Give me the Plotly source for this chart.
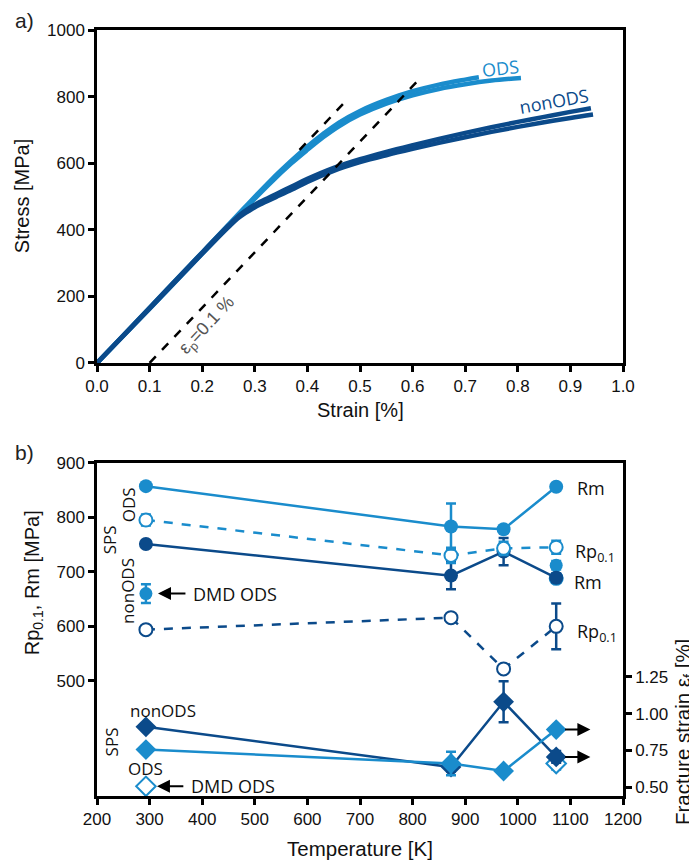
import plotly.graph_objects as go

# ---------------- data: panel a (stress-strain) ----------------
ods1_strain = [0.0, 0.10, 0.20, 0.28, 0.33, 0.37, 0.40, 0.43, 0.46, 0.50, 0.55, 0.60, 0.65, 0.70, 0.726]
ods1_stress = [0, 166, 332, 466, 548, 608, 650, 688, 722, 757, 790, 816, 836, 851, 858]
ods2_strain = [0.0, 0.10, 0.20, 0.28, 0.33, 0.37, 0.40, 0.43, 0.46, 0.50, 0.55, 0.60, 0.65, 0.70, 0.75, 0.806]
ods2_stress = [0, 163, 328, 461, 541, 600, 640, 678, 711, 746, 779, 804, 823, 837, 848, 856]
non1_strain = [0.0, 0.10, 0.20, 0.25, 0.27, 0.29, 0.31, 0.34, 0.37, 0.40, 0.45, 0.50, 0.55, 0.60, 0.65, 0.70, 0.75, 0.80, 0.85, 0.90, 0.939]
non1_stress = [0, 166, 332, 413, 443, 466, 484, 507, 530, 553, 586, 612, 634, 654, 673, 691, 708, 724, 739, 754, 765]
non2_strain = [0.0, 0.10, 0.20, 0.25, 0.27, 0.29, 0.31, 0.34, 0.37, 0.40, 0.45, 0.50, 0.55, 0.60, 0.65, 0.70, 0.75, 0.80, 0.85, 0.90, 0.943]
non2_stress = [0, 163, 328, 408, 437, 458, 476, 498, 520, 544, 577, 603, 624, 643, 661, 678, 694, 709, 723, 736, 746]
elastic_x = [0.385, 0.468]
elastic_y = [640, 778]
offset_x = [0.10, 0.615]
offset_y = [0, 856]

# ---------------- data: panel b ----------------
T = [293, 873, 973, 1073]
ods_rm = [857, 783, 778, 856]
ods_rm_err = [0, 42, 4, 0]
ods_rp = [795, 730, 743, 745]
ods_rp_err = [10, 14, 12, 12]
non_rm = [751, 693, 737, 689]
non_rm_err = [0, 25, 25, 8]
non_rp = [594, 616, 522, 600]
non_rp_err = [0, 8, 0, 42]
dmd_T = [293, 1073]
dmd_rm = [660, 712]
dmd_rm_err = [17, 8]
dmd_rp_T = [1073]
dmd_rp = [688]

non_ef = [0.91, 0.636, 1.08, 0.705]
non_ef_err = [0, 0.03, 0.14, 0.04]
ods_ef = [0.755, 0.66, 0.609, 0.891]
ods_ef_err = [0, 0.08, 0, 0]
dmd_ef_T = [293, 1073]
dmd_ef = [0.505, 0.66]
dmd_ef_err = [0, 0.04]

left_ticks = [500, 600, 700, 800, 900]
right_ticks = [0.5, 0.75, 1.0, 1.25]
right_ticktext = ["0.50", "0.75", "1.00", "1.25"]

LIGHT = "#1a8ccc"
DARK = "#0b4a8a"
TXT = "Open Sans"
AX = "Liberation Sans"

fig = go.Figure()

# panel a curves
for xs, ys, c in [(ods2_strain, ods2_stress, LIGHT), (ods1_strain, ods1_stress, LIGHT),
                  (non2_strain, non2_stress, DARK), (non1_strain, non1_stress, DARK)]:
    fig.add_trace(go.Scatter(x=xs, y=ys, mode="lines", line=dict(color=c, width=4.5, shape="spline"),
                             xaxis="x", yaxis="y", showlegend=False, hoverinfo="skip"))
for xs, ys in [(elastic_x, elastic_y), (offset_x, offset_y)]:
    fig.add_trace(go.Scatter(x=xs, y=ys, mode="lines", line=dict(color="black", width=2.5, dash="dash"),
                             xaxis="x", yaxis="y", showlegend=False))

def err(vals, c):
    return dict(type="data", array=vals, visible=True, color=c, thickness=2.5, width=5)

# panel b - fracture strain (right axis)
fig.add_trace(go.Scatter(x=dmd_ef_T, y=dmd_ef, mode="markers", xaxis="x2", yaxis="y3",
                         marker=dict(symbol="diamond", size=15, color="white", line=dict(color=LIGHT, width=2)),
                         error_y=err(dmd_ef_err, LIGHT), showlegend=False))
fig.add_trace(go.Scatter(x=T, y=non_ef, mode="lines+markers", xaxis="x2", yaxis="y3",
                         line=dict(color=DARK, width=2.5),
                         marker=dict(symbol="diamond", size=16, color=DARK),
                         error_y=err(non_ef_err, DARK), showlegend=False))
fig.add_trace(go.Scatter(x=T, y=ods_ef, mode="lines+markers", xaxis="x2", yaxis="y3",
                         line=dict(color=LIGHT, width=2.5),
                         marker=dict(symbol="diamond", size=16, color=LIGHT),
                         error_y=err(ods_ef_err, LIGHT), showlegend=False))

# panel b - strengths (left axis)
fig.add_trace(go.Scatter(x=dmd_rp_T, y=dmd_rp, mode="markers", xaxis="x2", yaxis="y2",
                         marker=dict(symbol="circle", size=13, color="white", line=dict(color=LIGHT, width=2)),
                         showlegend=False))
fig.add_trace(go.Scatter(x=dmd_T, y=dmd_rm, mode="markers", xaxis="x2", yaxis="y2",
                         marker=dict(symbol="circle", size=13, color=LIGHT),
                         error_y=err(dmd_rm_err, LIGHT), showlegend=False))
fig.add_trace(go.Scatter(x=T, y=non_rp, mode="lines+markers", xaxis="x2", yaxis="y2",
                         line=dict(color=DARK, width=2.5, dash="dash"),
                         marker=dict(symbol="circle", size=13, color="white", line=dict(color=DARK, width=2)),
                         error_y=err(non_rp_err, DARK), showlegend=False))
fig.add_trace(go.Scatter(x=T, y=non_rm, mode="lines+markers", xaxis="x2", yaxis="y2",
                         line=dict(color=DARK, width=2.5),
                         marker=dict(symbol="circle", size=14, color=DARK),
                         error_y=err(non_rm_err, DARK), showlegend=False))
fig.add_trace(go.Scatter(x=T, y=ods_rp, mode="lines+markers", xaxis="x2", yaxis="y2",
                         line=dict(color=LIGHT, width=2.5, dash="dash"),
                         marker=dict(symbol="circle", size=13, color="white", line=dict(color=LIGHT, width=2)),
                         error_y=err(ods_rp_err, LIGHT), showlegend=False))
fig.add_trace(go.Scatter(x=T, y=ods_rm, mode="lines+markers", xaxis="x2", yaxis="y2",
                         line=dict(color=LIGHT, width=2.5),
                         marker=dict(symbol="circle", size=14, color=LIGHT),
                         error_y=err(ods_rm_err, LIGHT), showlegend=False))

axis_common = dict(showline=True, linecolor="black", linewidth=2.5, ticks="outside", ticklen=6,
                   tickwidth=2.5, tickcolor="black", showgrid=False, zeroline=False,
                   tickfont=dict(family=AX, size=17, color="#111"))

# the page body adds an 8 px margin; the figure is sized so that it fits the window
fig.update_layout(
    width=689, height=860,
    margin=dict(l=89, r=74, t=22, b=72),
    paper_bgcolor="white", plot_bgcolor="white",
    xaxis=dict(domain=[0, 1], anchor="y", range=[0, 1], dtick=0.1, tickformat=".1f", mirror=True, **axis_common),
    yaxis=dict(domain=[0.5653, 1], anchor="x", range=[0, 1000], dtick=200, mirror=True, **axis_common),
    xaxis2=dict(domain=[0, 1], anchor="y2", range=[200, 1200], dtick=100, mirror=True, **axis_common),
    yaxis2=dict(domain=[0, 0.4351], anchor="x2", range=[289, 900], tickvals=left_ticks, mirror=True, **axis_common),
    yaxis3=dict(overlaying="y2", anchor="x2", side="right", range=[0.439, 2.707], tickvals=right_ticks,
                ticktext=right_ticktext, **axis_common),
)

ann = []
def txt(x, y, text, xref, yref, size=18, color="#111", family=TXT, angle=0, xanchor="center", yanchor="middle"):
    ann.append(dict(x=x, y=y, text=text, xref=xref, yref=yref, showarrow=False, textangle=angle,
                    font=dict(family=family, size=size, color=color), xanchor=xanchor, yanchor=yanchor))

# panel labels & axis titles
txt(-0.137, 1.013, "a)", "paper", "paper", size=21, family=AX, color="#222")
txt(-0.137, 0.4478, "b)", "paper", "paper", size=21, family=AX, color="#222")
txt(-0.1426, 0.783, "Stress [MPa]", "paper", "paper", size=20, family=AX, angle=-90)
txt(0.5, 0.504, "Strain [%]", "paper", "paper", size=20, family=AX)
txt(0.5, -0.069, "Temperature [K]", "paper", "paper", size=20.5, family=AX)
txt(-0.1217, 0.279, "Rp<sub>0.1</sub>, Rm [MPa]", "paper", "paper", size=20, family=AX, angle=-90)
txt(1.116, 0.0836, "Fracture strain ε<sub>f</sub> [%]", "paper", "paper", size=20.5, family=AX, angle=-90)

# panel a texts
txt(0.7675, 886, "ODS", "x", "y", size=18, color=LIGHT, angle=-6)
txt(0.868, 787, "nonODS", "x", "y", size=18, color=DARK, angle=-10)
txt(0.21, 114, "ε<sub>p</sub>=0.1 %", "x", "y", size=18, color="#555", family=AX, angle=-47)

# panel b texts
txt(1109, 853, "Rm", "x2", "y2", xanchor="left")
txt(1105, 736, "Rp<sub>0.1</sub>", "x2", "y2", xanchor="left")
txt(1103, 682, "Rm", "x2", "y2", xanchor="left")
txt(1109, 588, "Rp<sub>0.1</sub>", "x2", "y2", xanchor="left")
txt(259, 822, "ODS", "x2", "y2", size=17, angle=-90)
txt(223, 758, "SPS", "x2", "y2", size=17, angle=-90)
txt(259, 665, "nonODS", "x2", "y2", size=17, angle=-90)
txt(378, 660, "DMD ODS", "x2", "y2", xanchor="left")
txt(326, 1.022, "nonODS", "x2", "y3", size=17)
txt(227, 0.805, "SPS", "x2", "y3", size=17, angle=-90)
txt(293, 0.627, "ODS", "x2", "y3", size=17)
txt(375, 0.505, "DMD ODS", "x2", "y3", xanchor="left")

def arrow(x, y, ax_, yref):
    ann.append(dict(x=x, y=y, ax=ax_, ay=y, xref="x2", yref=yref, axref="x2", ayref=yref,
                    showarrow=True, arrowhead=2, arrowsize=1.3, arrowwidth=2, arrowcolor="black", text=""))

arrow(316, 660, 371, "y2")
arrow(314, 0.505, 367, "y3")
arrow(1138, 0.891, 1087, "y3")
arrow(1138, 0.705, 1087, "y3")

fig.update_layout(annotations=ann)
fig.write_html("out.html")
